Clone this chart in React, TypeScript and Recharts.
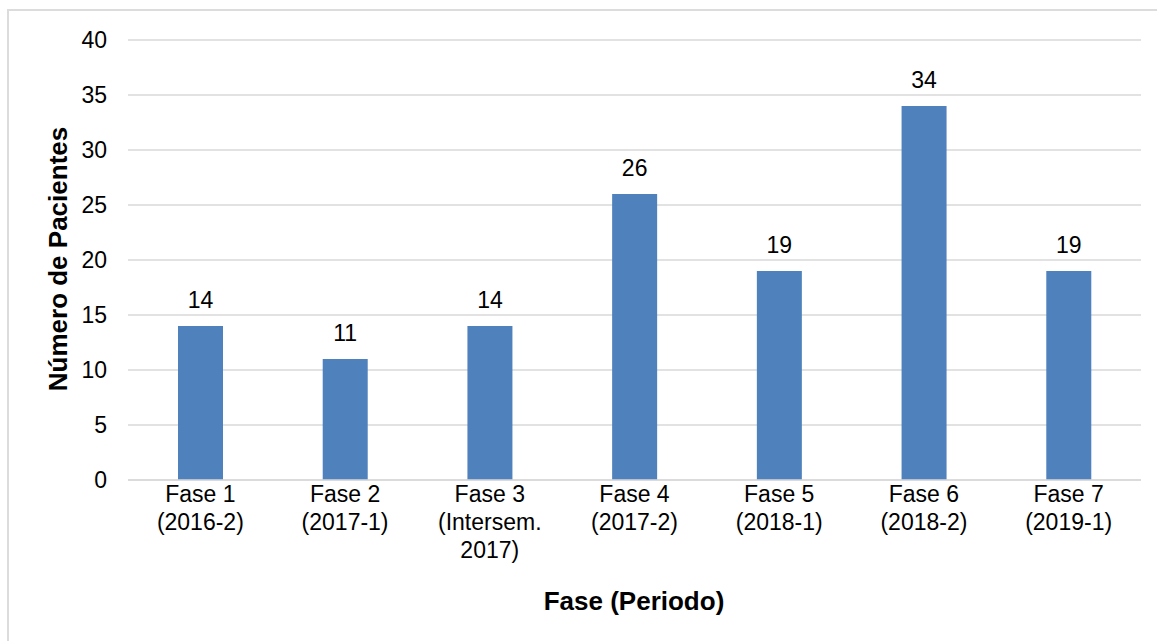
import { BarChart, Bar, XAxis, YAxis, CartesianGrid, LabelList, Label } from "recharts";

const phases = ["Fase 1", "Fase 2", "Fase 3", "Fase 4", "Fase 5", "Fase 6", "Fase 7"];
const periods = [["(2016-2)"], ["(2017-1)"], ["(Intersem.", "2017)"], ["(2017-2)"], ["(2018-1)"], ["(2018-2)"], ["(2019-1)"]];
const patients = [14, 11, 14, 26, 19, 34, 19];
const yTicks = [0, 5, 10, 15, 20, 25, 30, 35, 40];

const data = phases.map((p, i) => ({ name: p, lines: [p, ...periods[i]], value: patients[i] }));

const FONT = '"Liberation Sans", Arial, Helvetica, sans-serif';

function XTick(props: any) {
  const { x, y, index } = props;
  const lines: string[] = data[index]?.lines ?? [String(props.payload.value)];
  return (
    <text x={x} y={y + 14} textAnchor="middle" fontFamily={FONT} fontSize={23} fill="#000">
      {lines.map((l, i) => (
        <tspan key={i} x={x} dy={i === 0 ? 0 : 28}>
          {l}
        </tspan>
      ))}
    </text>
  );
}

function YTick(props: any) {
  const { x, y, payload } = props;
  return (
    <text x={x - 13} y={y} dy="0.35em" textAnchor="end" fontFamily={FONT} fontSize={23} fill="#000">
      {payload.value}
    </text>
  );
}

export default function App() {
  return (
    <div style={{ position: "absolute", left: 0, top: 0, width: 1157, height: 641, background: "#fff" }}>
      <div
        style={{
          position: "absolute",
          left: 7,
          top: 9,
          width: 1150,
          height: 632,
          borderTop: "2px solid #dcdcdc",
          borderLeft: "2px solid #dcdcdc",
          boxSizing: "border-box"
        }}
      />
      <div style={{ position: "absolute", left: 0, top: 0 }}>
        <BarChart
          width={1157}
          height={641}
          data={data}
          margin={{ top: 40, right: 16, bottom: 51, left: 68 }}
          barCategoryGap="34%"
        >
          <CartesianGrid vertical={false} stroke="#d9d9d9" strokeWidth={1.5} />
          <XAxis
            dataKey="name"
            height={110}
            tickLine={false}
            axisLine={{ stroke: "#d9d9d9", strokeWidth: 1.5 }}
            tick={<XTick />}
            interval={0}
          >
            <Label
              content={() => (
                <text x={634} y={610} textAnchor="middle" fontFamily={FONT} fontSize={26} fontWeight="bold" fill="#000">
                  Fase (Periodo)
                </text>
              )}
            />
          </XAxis>
          <YAxis
            width={60}
            domain={[0, 40]}
            ticks={yTicks}
            interval={0}
            tickLine={false}
            axisLine={false}
            tick={<YTick />}
          >
            <Label
              content={() => (
                <text
                  x={58}
                  y={259}
                  transform="rotate(-90 58 259)"
                  dy="0.35em"
                  textAnchor="middle"
                  fontFamily={FONT}
                  fontSize={26}
                  fontWeight="bold"
                  fill="#000"
                >
                  Número de Pacientes
                </text>
              )}
            />
          </YAxis>
          <Bar dataKey="value" fill="#4f81bd" barSize={45} isAnimationActive={false}>
            <LabelList dataKey="value" position="top" offset={18} fontFamily={FONT} fontSize={23} fill="#000" />
          </Bar>
        </BarChart>
      </div>
    </div>
  );
}
